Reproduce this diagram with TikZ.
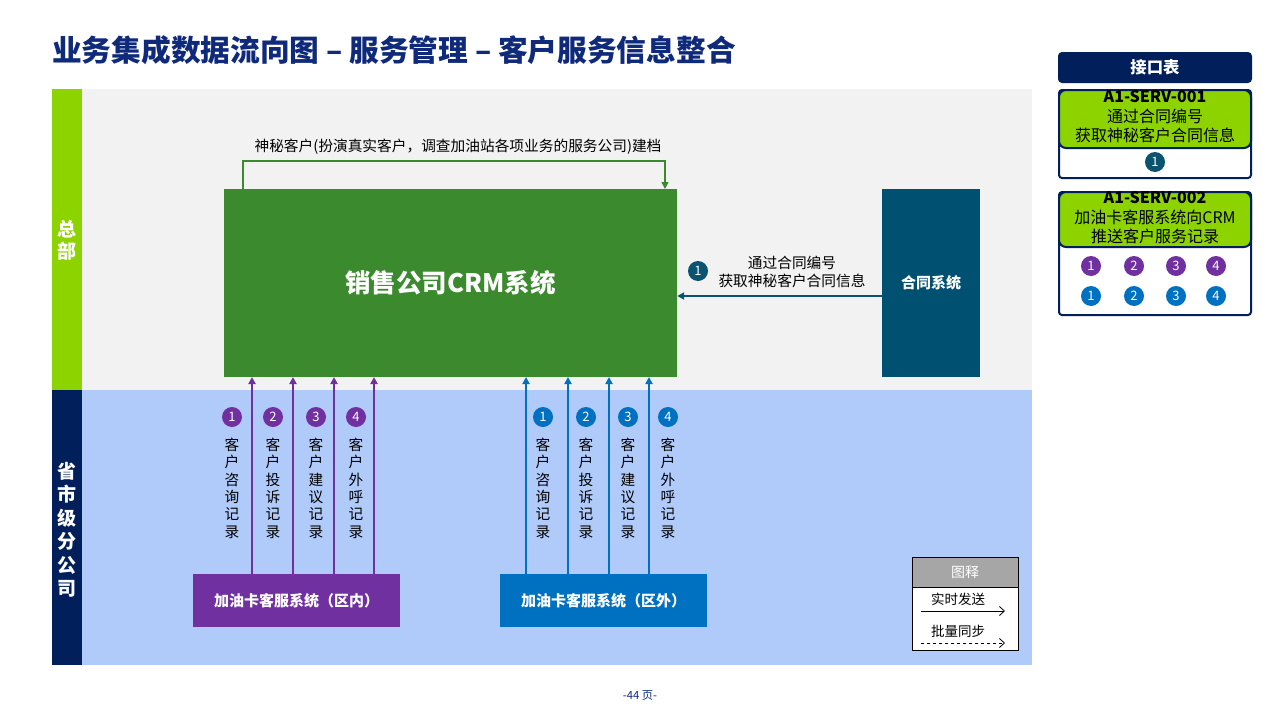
\documentclass[tikz,border=0pt]{standalone}
\usepackage{fontspec}
\setmainfont{Noto Sans CJK SC}
\usetikzlibrary{arrows.meta,positioning}
\definecolor{titlenavy}{HTML}{0F2A7A}
\definecolor{lime}{HTML}{8CD300}
\definecolor{crmgreen}{HTML}{3C8A2E}
\definecolor{stripnavy}{HTML}{001F5B}
\definecolor{lightblue}{HTML}{B0CAFA}
\definecolor{lightgray}{HTML}{F2F2F2}
\definecolor{contract}{HTML}{005072}
\definecolor{tealc}{HTML}{0B536E}
\definecolor{purp}{HTML}{7030A0}
\definecolor{blu}{HTML}{0070C0}
\definecolor{legendgray}{HTML}{A6A6A6}
\begin{document}
\begin{tikzpicture}[x=1pt,y=-1pt,
  sysbox/.style={fill=#1, draw=none, text=white, font=\bfseries\fontsize{15}{17}\selectfont, inner sep=0pt},
  numc/.style={circle, fill=#1, text=white, minimum size=20pt, inner sep=0pt, font=\fontsize{13}{13}\selectfont},
  vcol/.style={align=center, font=\fontsize{14.7}{17.3}\selectfont, inner sep=0pt, text=black},
  uparrow/.style={draw=#1, line width=1.8pt, -{Triangle[width=7pt,length=7pt]}},
  lbl/.style={font=\fontsize{14.7}{18}\selectfont, align=center, inner sep=0pt},
  panel/.style={draw=stripnavy, line width=2pt, fill=white, rounded corners=3pt},
  panelhead/.style={draw=stripnavy, line width=2pt, fill=lime, rounded corners=7pt}
]
\useasboundingbox (0,0) rectangle (1280,720);
\fill[white] (0,0) rectangle (1280,720);

% title
\node[anchor=west, text=titlenavy, font=\bfseries\fontsize{29.7}{32}\selectfont, inner sep=0pt] (title) at (52,50) {业务集成数据流向图 – 服务管理 – 客户服务信息整合};

% bands
\fill[lightgray] (82,89) rectangle (1032,390);
\fill[lightblue] (82,390) rectangle (1032,665);
\fill[lime] (52,89) rectangle (82,390);
\fill[stripnavy] (52,390) rectangle (82,665);
\node[text=white, font=\bfseries\fontsize{19}{22}\selectfont, align=center, inner sep=0pt] (hq) at (67,240) {总\\部};
\node[text=white, font=\bfseries\fontsize{19}{23.5}\selectfont, align=center, inner sep=0pt] (prov) at (67,530) {省\\市\\级\\分\\公\\司};

% main systems
\node[sysbox=crmgreen, minimum width=453pt, minimum height=188pt, font=\bfseries\fontsize{25.5}{28}\selectfont] (crm) at (450.5,283) {销售公司CRM系统};
\node[sysbox=contract, minimum width=98pt, minimum height=188pt] (ht) at (931,283) {合同系统};
\node[sysbox=purp, minimum width=207pt, minimum height=53pt] (pin) at (296.5,600.5) {加油卡客服系统（区内）};
\node[sysbox=blu, minimum width=207pt, minimum height=53pt] (pout) at (603.5,600.5) {加油卡客服系统（区外）};

% green loop
\coordinate (l1) at (243,189);
\coordinate (l2) at (243,161);
\coordinate (l3) at (665,161);
\coordinate (l4) at (665,189);
\draw[draw=crmgreen, line width=1.5pt, -{Triangle[width=7pt,length=7pt]}] (l1) -- (l2) -- (l3) -- (l4);
\node[lbl] (looplbl) at (458,147) {神秘客户(扮演真实客户，调查加油站各项业务的服务公司)建档};

% contract arrow
\draw[draw=tealc, line width=1.8pt, -{Triangle[width=7pt,length=7pt]}] (ht.west |- 0,296) -- (crm.east |- 0,296);
\node[lbl] (htlbl) at (792,272) {通过合同编号\\获取神秘客户合同信息};
\node[numc=tealc] (c0) at (698,271) {1};

% purple arrows
\foreach \x/\cx/\n/\t [count=\i] in {252/232/1/{客\\户\\咨\\询\\记\\录},293/273/2/{客\\户\\投\\诉\\记\\录},334/316/3/{客\\户\\建\\议\\记\\录},374/356/4/{客\\户\\外\\呼\\记\\录}}{
  \draw[uparrow=purp] (\x,574) -- (\x,377);
  \node[numc=purp] (pc\i) at (\cx,417) {\n};
  \node[vcol, anchor=north] (pt\i) at (\cx,438) {\t};
}
% blue arrows
\foreach \x/\cx/\n/\t [count=\i] in {526/543/1/{客\\户\\咨\\询\\记\\录},568/586/2/{客\\户\\投\\诉\\记\\录},609/628/3/{客\\户\\建\\议\\记\\录},649/668/4/{客\\户\\外\\呼\\记\\录}}{
  \draw[uparrow=blu] (\x,574) -- (\x,377);
  \node[numc=blu] (bc\i) at (\cx,417) {\n};
  \node[vcol, anchor=north] (bt\i) at (\cx,438) {\t};
}

% legend
\node[draw=black, line width=0.8pt, fill=white, minimum width=106pt, minimum height=93pt, inner sep=0pt] (leg) at (965,603.5) {};
\node[fill=legendgray, draw=black, line width=0.8pt, minimum width=106pt, minimum height=30pt, inner sep=0pt, text=white, font=\fontsize{14}{16}\selectfont] (leghead) at (965,572) {图释};
\node[font=\fontsize{13.5}{15}\selectfont, inner sep=0pt] (legt1) at (958,599) {实时发送};
\node[font=\fontsize{13.5}{15}\selectfont, inner sep=0pt] (legt2) at (958,631) {批量同步};
\coordinate (la1) at (921,611);
\coordinate (la2) at (1005,611);
\coordinate (lb1) at (921,643);
\coordinate (lb2) at (1005,643);
\draw[line width=0.8pt, -{Straight Barb[length=5pt,width=9pt]}] (la1) -- (la2);
\draw[line width=0.8pt, dashed, -{Straight Barb[length=5pt,width=9pt]}] (lb1) -- (lb2);

% page number
\node[text=titlenavy, font=\fontsize{11.3}{13}\selectfont, inner sep=0pt] (page) at (640,696) {-44 页-};

% right panel
\node[fill=stripnavy, rounded corners=4pt, minimum width=194pt, minimum height=31pt, inner sep=0pt, text=white, font=\bfseries\fontsize{16.4}{18}\selectfont] (ifhead) at (1155,67.5) {接口表};

\draw[panel] (1059,90) rectangle (1251,178);
\draw[panelhead] (1059,90) rectangle (1251,148);
\node[font=\fontsize{16}{19.5}\selectfont, align=center, inner sep=0pt] (if1) at (1155,117) {\textbf{A1-SERV-001}\\通过合同编号\\获取神秘客户合同信息};
\node[numc=tealc] (ic0) at (1155,162) {1};

\draw[panel] (1059,192) rectangle (1251,315);
\draw[panelhead] (1059,192) rectangle (1251,247);
\node[font=\fontsize{16}{19.5}\selectfont, align=center, inner sep=0pt] (if2) at (1155,218) {\textbf{A1-SERV-002}\\加油卡客服系统向CRM\\推送客户服务记录};
\foreach \x/\n in {1091/1,1134/2,1176/3,1216/4}{
  \node[numc=purp] (ip\n) at (\x,266) {\n};
  \node[numc=blu] (ib\n) at (\x,296) {\n};
}
\end{tikzpicture}
\end{document}
